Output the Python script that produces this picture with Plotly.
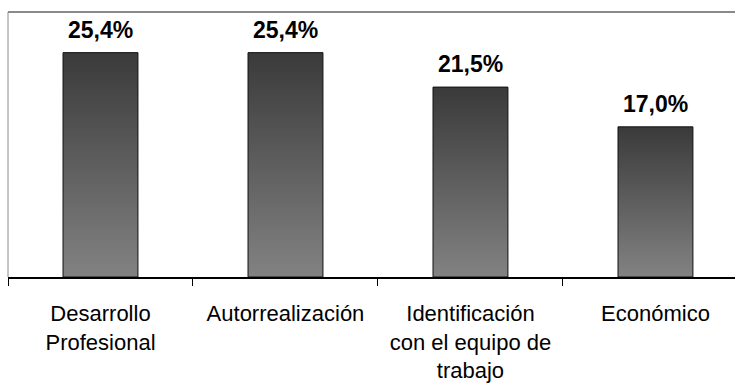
import plotly.graph_objects as go

# Motivation categories and their shares (%)
categories = [
    "Desarrollo<br>Profesional",
    "Autorrealización",
    "Identificación<br>con el equipo de<br>trabajo",
    "Económico",
]
values = [25.4, 25.4, 21.5, 17.0]
value_labels = ["25,4%", "25,4%", "21,5%", "17,0%"]

BAR_W = 0.405
FONT = "Liberation Sans, Arial, sans-serif"

fig = go.Figure()

# Each bar is a closed polygon so it can take a vertical gradient fill
for i, v in enumerate(values):
    x0, x1 = i - BAR_W / 2, i + BAR_W / 2
    fig.add_trace(go.Scatter(
        x=[x0, x0, x1, x1, x0],
        y=[0, v, v, 0, 0],
        mode="lines",
        fill="toself",
        fillgradient=dict(
            type="vertical",
            colorscale=[[0, "#828282"], [1, "#3a3a3a"]],
        ),
        line=dict(color="#111111", width=1),
        hoverinfo="skip",
        showlegend=False,
    ))
    fig.add_annotation(
        x=i, y=v, xref="x", yref="y",
        text=f"<b>{value_labels[i]}</b>",
        showarrow=False, yanchor="bottom", yshift=8,
        font=dict(family=FONT, size=23, color="#000000"),
    )

# Thin grey frame on the top and left of the plot area
fig.add_shape(type="line", xref="paper", yref="paper",
              x0=0, x1=1, y0=1, y1=1, line=dict(color="#8a8a8a", width=2))
fig.add_shape(type="line", xref="paper", yref="paper",
              x0=0, x1=0, y0=0, y1=1, line=dict(color="#8a8a8a", width=1))

fig.update_layout(
    width=735, height=385,
    margin=dict(l=8, r=0, t=12, b=108),
    paper_bgcolor="white", plot_bgcolor="white",
    xaxis=dict(
        range=[-0.5, 3.43],
        tickvals=[-0.5, 0.5, 1.5, 2.5],
        showticklabels=False,
        ticks="outside", ticklen=7, tickcolor="#000000", tickwidth=1,
        showline=True, linecolor="#000000", linewidth=1.5,
        showgrid=False, zeroline=False,
    ),
    xaxis2=dict(
        overlaying="x", matches="x", side="bottom",
        tickvals=list(range(len(categories))),
        ticktext=categories,
        ticks="", showline=False, showgrid=False, zeroline=False,
        tickfont=dict(family=FONT, size=22, color="#000000"),
        ticklabelstandoff=21,
    ),
    yaxis=dict(
        range=[0, 30], visible=False, showgrid=False, zeroline=False,
    ),
)

# Invisible trace so the label axis is drawn
fig.add_trace(go.Scatter(x=[0, 3], y=[0, 0], xaxis="x2", mode="markers",
                         marker=dict(opacity=0), hoverinfo="skip",
                         showlegend=False))

fig.write_html("out.html")
